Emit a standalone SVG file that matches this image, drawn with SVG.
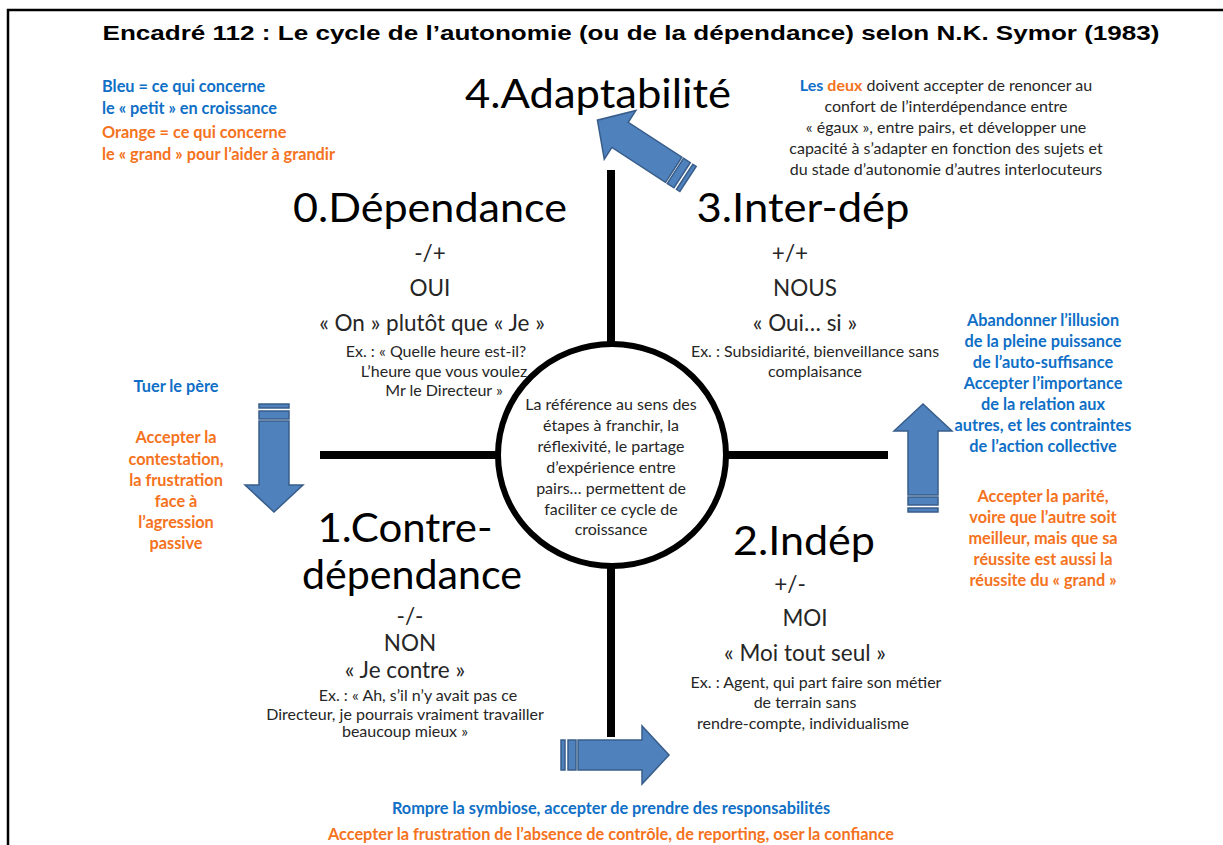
<svg xmlns="http://www.w3.org/2000/svg" width="1223" height="845" viewBox="0 0 1223 845">
<style>
  .t{font-family:Lato,"Open Sans","Liberation Sans",sans-serif;fill:#262626;text-anchor:middle}
  .big{font-size:41px;fill:#000}
  .med{font-size:22.5px}
  .sm{font-size:16px}
  .b{font-family:Lato,"Open Sans","Liberation Sans",sans-serif;font-weight:bold;font-size:16.3px;text-anchor:middle}
  .blue{fill:#0F6FC6}
  .orange{fill:#F47220}
  .ln{stroke:#000;stroke-width:8;fill:none}
  .arr{fill:#4F81BD;stroke:#385D8A;stroke-width:1.5}
</style>
<defs>
  <g id="arrow">
    <rect class="arr" x="0" y="-15" width="4" height="30"/>
    <rect class="arr" x="7" y="-15" width="8" height="30"/>
    <path class="arr" d="M17,-15 H81 V-29 L108,0 L81,29 V15 H17 Z"/>
  </g>
</defs>
<rect width="1223" height="845" fill="#fff"/>
<path d="M8,845 V10 H1223" stroke="#000" stroke-width="2.5" fill="none"/>

<g id="title">
  <text x="631" y="40" font-family="'Liberation Sans',Arial,sans-serif" font-weight="bold" font-size="21" text-anchor="middle" textLength="1057" lengthAdjust="spacingAndGlyphs">Encadré 112 : Le cycle de l’autonomie (ou de la dépendance) selon N.K. Symor (1983)</text>
</g>

<g id="connectors">
  <line class="ln" x1="611" y1="170" x2="611" y2="345"/>
  <line class="ln" x1="611" y1="566" x2="611" y2="737"/>
  <line class="ln" x1="320" y1="455" x2="498" y2="455" stroke-width="7"/>
  <line class="ln" x1="727" y1="455" x2="888" y2="455" stroke-width="7"/>
  <use href="#arrow" transform="translate(274,404) rotate(90)"/>
  <use href="#arrow" transform="translate(561,755)"/>
  <use href="#arrow" transform="translate(923,512) rotate(-90)"/>
  <use href="#arrow" transform="translate(688,179) rotate(213)"/>
</g>

<g id="center">
  <ellipse cx="612" cy="455" rx="114" ry="111" fill="#fff" stroke="#000" stroke-width="6"/>
  <text class="t sm" x="611" y="410">La référence  au sens des</text>
  <text class="t sm" x="611" y="431">étapes à franchir, la</text>
  <text class="t sm" x="611" y="452">réflexivité, le partage</text>
  <text class="t sm" x="611" y="473">d’expérience  entre</text>
  <text class="t sm" x="611" y="494">pairs… permettent  de</text>
  <text class="t sm" x="611" y="515">faciliter ce cycle de</text>
  <text class="t sm" x="611" y="535">croissance</text>
</g>

<g id="legend">
  <text class="b blue" x="102" y="92" style="text-anchor:start">Bleu = ce qui concerne</text>
  <text class="b blue" x="102" y="114" style="text-anchor:start">le « petit » en croissance</text>
  <text class="b orange" x="102" y="138" style="text-anchor:start">Orange = ce qui concerne</text>
  <text class="b orange" x="102" y="160" style="text-anchor:start">le « grand » pour l’aider à grandir</text>
</g>

<g id="node-4">
  <text class="t big" x="598" y="108" textLength="266" lengthAdjust="spacingAndGlyphs">4.Adaptabilité</text>
</g>
<g id="note-4">
  <text class="t sm" x="946" y="91"><tspan class="blue" font-weight="bold">Les</tspan> <tspan class="orange" font-weight="bold">deux</tspan> doivent accepter de renoncer au</text>
  <text class="t sm" x="946" y="112">confort de l’interdépendance  entre</text>
  <text class="t sm" x="946" y="133">« égaux », entre pairs, et développer  une</text>
  <text class="t sm" x="946" y="154">capacité à s’adapter  en fonction des sujets et</text>
  <text class="t sm" x="946" y="175">du stade d’autonomie  d’autres interlocuteurs</text>
</g>

<g id="node-0">
  <text class="t big" x="430" y="222" textLength="274" lengthAdjust="spacingAndGlyphs">0.Dépendance</text>
  <text class="t med" x="430" y="261">-/+</text>
  <text class="t med" x="430" y="296">OUI</text>
  <text class="t med" x="432" y="331">« On » plutôt que « Je »</text>
  <text class="t sm" x="436" y="357">Ex. : « Quelle heure est-il?</text>
  <text class="t sm" x="444" y="377">L’heure  que vous voulez</text>
  <text class="t sm" x="444" y="396">Mr le Directeur  »</text>
</g>

<g id="node-3">
  <text class="t big" x="803" y="222" textLength="213" lengthAdjust="spacingAndGlyphs">3.Inter-dép</text>
  <text class="t med" x="790" y="261">+/+</text>
  <text class="t med" x="805" y="296">NOUS</text>
  <text class="t med" x="805" y="331">« Oui… si »</text>
  <text class="t sm" x="815" y="357">Ex. : Subsidiarité, bienveillance sans</text>
  <text class="t sm" x="815" y="377">complaisance</text>
</g>

<g id="node-1">
  <text class="t big" x="405" y="542" textLength="175" lengthAdjust="spacingAndGlyphs">1.Contre-</text>
  <text class="t big" x="412" y="589" textLength="220" lengthAdjust="spacingAndGlyphs">dépendance</text>
  <text class="t med" x="410" y="624">-/-</text>
  <text class="t med" x="410" y="651">NON</text>
  <text class="t med" x="405" y="678">« Je contre »</text>
  <text class="t sm" x="418" y="701">Ex. : « Ah, s’il n’y avait pas ce</text>
  <text class="t sm" x="405" y="720">Directeur, je pourrais vraiment travailler</text>
  <text class="t sm" x="405" y="737">beaucoup mieux »</text>
</g>

<g id="node-2">
  <text class="t big" x="804" y="555" textLength="142" lengthAdjust="spacingAndGlyphs">2.Indép</text>
  <text class="t med" x="790" y="592">+/-</text>
  <text class="t med" x="805" y="626">MOI</text>
  <text class="t med" x="805" y="661">« Moi tout seul »</text>
  <text class="t sm" x="816" y="688">Ex. : Agent, qui part faire son métier</text>
  <text class="t sm" x="805" y="708">de terrain sans</text>
  <text class="t sm" x="803" y="729">rendre-compte, individualisme</text>
</g>

<g id="note-left">
  <text class="b blue" x="176" y="392">Tuer le père</text>
  <text class="b orange" x="176" y="443">Accepter la</text>
  <text class="b orange" x="176" y="465">contestation,</text>
  <text class="b orange" x="176" y="486">la frustration</text>
  <text class="b orange" x="176" y="507">face à</text>
  <text class="b orange" x="176" y="528">l’agression</text>
  <text class="b orange" x="176" y="549">passive</text>
</g>

<g id="note-right">
  <text class="b blue" x="1043" y="326">Abandonner  l’illusion</text>
  <text class="b blue" x="1043" y="347">de la pleine puissance</text>
  <text class="b blue" x="1043" y="368">de l’auto-suffisance</text>
  <text class="b blue" x="1043" y="389">Accepter l’importance</text>
  <text class="b blue" x="1043" y="410">de la relation aux</text>
  <text class="b blue" x="1043" y="431">autres, et les contraintes</text>
  <text class="b blue" x="1043" y="452">de l’action  collective</text>
  <text class="b orange" x="1043" y="502">Accepter la parité,</text>
  <text class="b orange" x="1043" y="523">voire que l’autre soit</text>
  <text class="b orange" x="1043" y="544">meilleur, mais que sa</text>
  <text class="b orange" x="1043" y="565">réussite est aussi  la</text>
  <text class="b orange" x="1043" y="586">réussite du « grand »</text>
</g>

<g id="note-bottom">
  <text class="b blue" x="611" y="814">Rompre la symbiose, accepter de prendre des responsabilités</text>
  <text class="b orange" x="611" y="840">Accepter la frustration de l’absence de contrôle, de reporting, oser la confiance</text>
</g>
</svg>
